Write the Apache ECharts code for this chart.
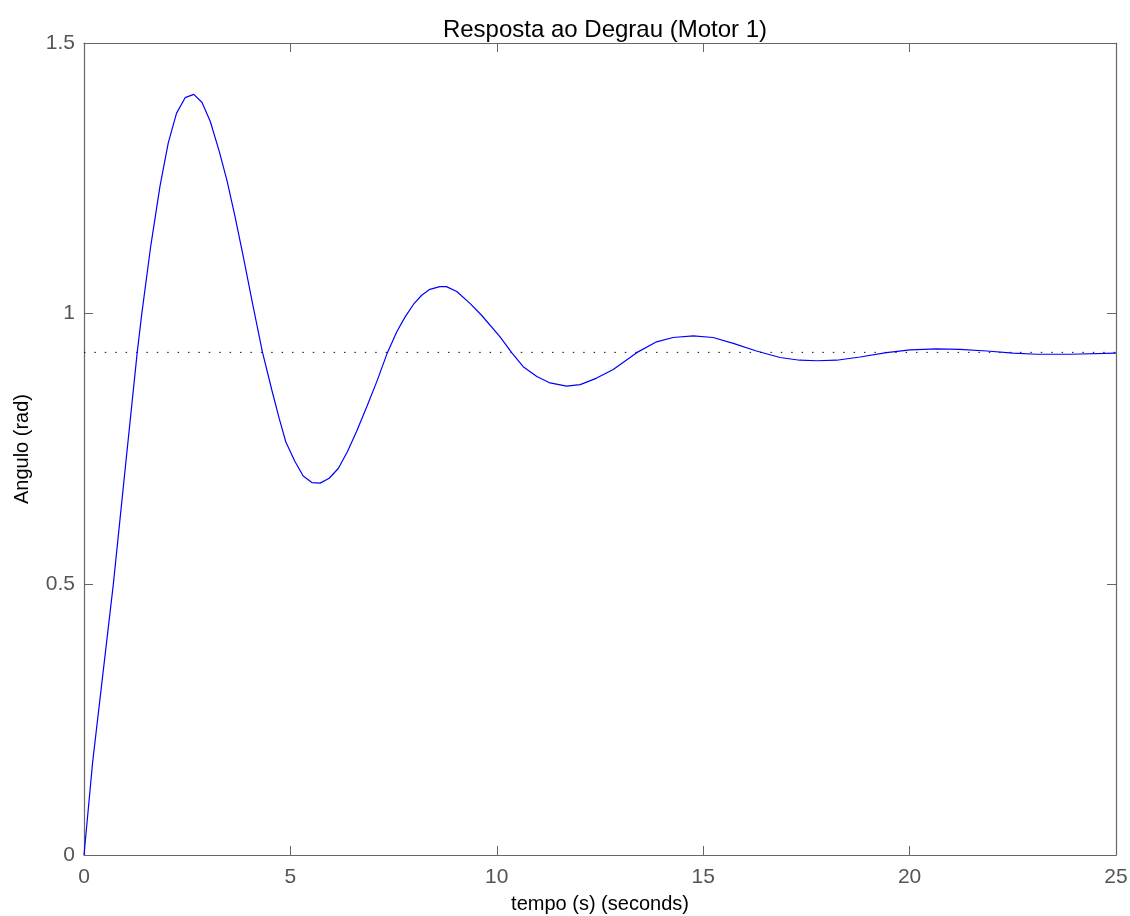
<!DOCTYPE html>
<html>
<head>
<meta charset="utf-8">
<title>Resposta ao Degrau (Motor 1)</title>
<script src="https://cdn.jsdelivr.net/npm/echarts@6/dist/echarts.min.js"></script>
<style>
  html, body { margin: 0; padding: 0; background: #fff; }
  #main { width: 1130px; height: 916px; }
</style>
</head>
<body>
<div id="main"></div>
<script>
// valores (tempo em s, ângulo em rad)
var tempo = [0, 0.21, 0.71, 0.97, 1.29, 1.40, 1.615, 1.84, 2.04, 2.24, 2.45, 2.66, 2.86, 3.06,
  3.28, 3.47, 3.66, 3.86, 4.08, 4.32, 4.55, 4.73, 4.89, 5.11, 5.31, 5.52, 5.72, 5.94, 6.16,
  6.38, 6.60, 6.85, 7.09, 7.35, 7.58, 7.78, 7.98, 8.18, 8.38, 8.62, 8.78, 9.03, 9.35, 9.62,
  10.08, 10.36, 10.64, 10.97, 11.29, 11.69, 12.02, 12.42, 12.82, 13.39, 13.87, 14.27, 14.76,
  15.24, 15.73, 16.29, 16.86, 17.34, 17.75, 18.23, 18.80, 19.44, 20.01, 20.65, 21.22, 21.87,
  22.51, 23.08, 23.89, 25];
var angulo = [0, 0.172, 0.5, 0.693, 0.929, 1.0, 1.124, 1.235, 1.315, 1.370, 1.399, 1.405, 1.390, 1.355,
  1.299, 1.244, 1.179, 1.105, 1.02, 0.93, 0.859, 0.806, 0.763, 0.727, 0.700, 0.688, 0.687, 0.696, 0.714,
  0.745, 0.782, 0.828, 0.874, 0.928, 0.967, 0.994, 1.017, 1.034, 1.045, 1.050, 1.050, 1.041, 1.019, 0.998,
  0.957, 0.928, 0.902, 0.884, 0.872, 0.866, 0.869, 0.881, 0.897, 0.928, 0.948, 0.956, 0.959,
  0.956, 0.945, 0.931, 0.919, 0.914, 0.913, 0.914, 0.920, 0.928, 0.933, 0.935, 0.934, 0.931,
  0.927, 0.925, 0.925, 0.927];
var valorFinal = 0.9285;
var xTicks = [0, 5, 10, 15, 20, 25];
var yTicks = [0, 0.5, 1, 1.5];

var myChart = echarts.init(document.getElementById('main'));

var resposta = tempo.map(function (t, i) { return [t, angulo[i]]; });
var linhaFinal = [[xTicks[0], valorFinal], [xTicks[xTicks.length - 1], valorFinal]];

var corEixo = '#666';
var fonte = 'Liberation Sans, Helvetica, Arial, sans-serif';

function eixoX(pos, comRotulo) {
    return {
        type: 'value',
        position: pos,
        min: xTicks[0],
        max: xTicks[xTicks.length - 1],
        interval: 5,
        name: comRotulo ? 'tempo (s) (seconds)' : '',
        nameLocation: 'middle',
        nameGap: 39,
        nameTextStyle: { color: '#000', fontSize: 20, fontFamily: fonte },
        axisLine: { show: true, onZero: false, lineStyle: { color: corEixo, width: 1.2 } },
        axisTick: { show: true, inside: true, length: 9, lineStyle: { color: corEixo } },
        axisLabel: { show: comRotulo, color: '#555', fontSize: 21, fontFamily: fonte, margin: 12 },
        splitLine: { show: false }
    };
}

function eixoY(pos, comRotulo) {
    return {
        type: 'value',
        position: pos,
        min: yTicks[0],
        max: yTicks[yTicks.length - 1],
        interval: 0.5,
        name: comRotulo ? 'Angulo (rad)' : '',
        nameLocation: 'middle',
        nameGap: 52,
        nameTextStyle: { color: '#000', fontSize: 20, fontFamily: fonte },
        axisLine: { show: true, onZero: false, lineStyle: { color: corEixo, width: 1.2 } },
        axisTick: { show: true, inside: true, length: 9, lineStyle: { color: corEixo } },
        axisLabel: { show: comRotulo, color: '#555', fontSize: 21, fontFamily: fonte, margin: 9 },
        splitLine: { show: false }
    };
}

option = {
    backgroundColor: '#fff',
    animation: false,
    title: {
        text: 'Resposta ao Degrau (Motor 1)',
        left: 600,
        textAlign: 'center',
        top: 13,
        textStyle: { color: '#000', fontSize: 24, fontWeight: 'normal', fontFamily: fonte }
    },
    grid: { left: 84, right: 14, top: 43, bottom: 61, outerBoundsMode: 'none' },
    xAxis: [eixoX('bottom', true), eixoX('top', false)],
    yAxis: [eixoY('left', true), eixoY('right', false)],
    series: [
        {
            name: 'valor final',
            type: 'line',
            data: linhaFinal,
            showSymbol: false,
            silent: true,
            lineStyle: { color: '#111', width: 1, type: [1.5, 8.9] }
        },
        {
            name: 'resposta',
            type: 'line',
            data: resposta,
            showSymbol: false,
            lineStyle: { color: '#0000ff', width: 1.2 }
        }
    ]
};

myChart.setOption(option);
</script>
</body>
</html>
